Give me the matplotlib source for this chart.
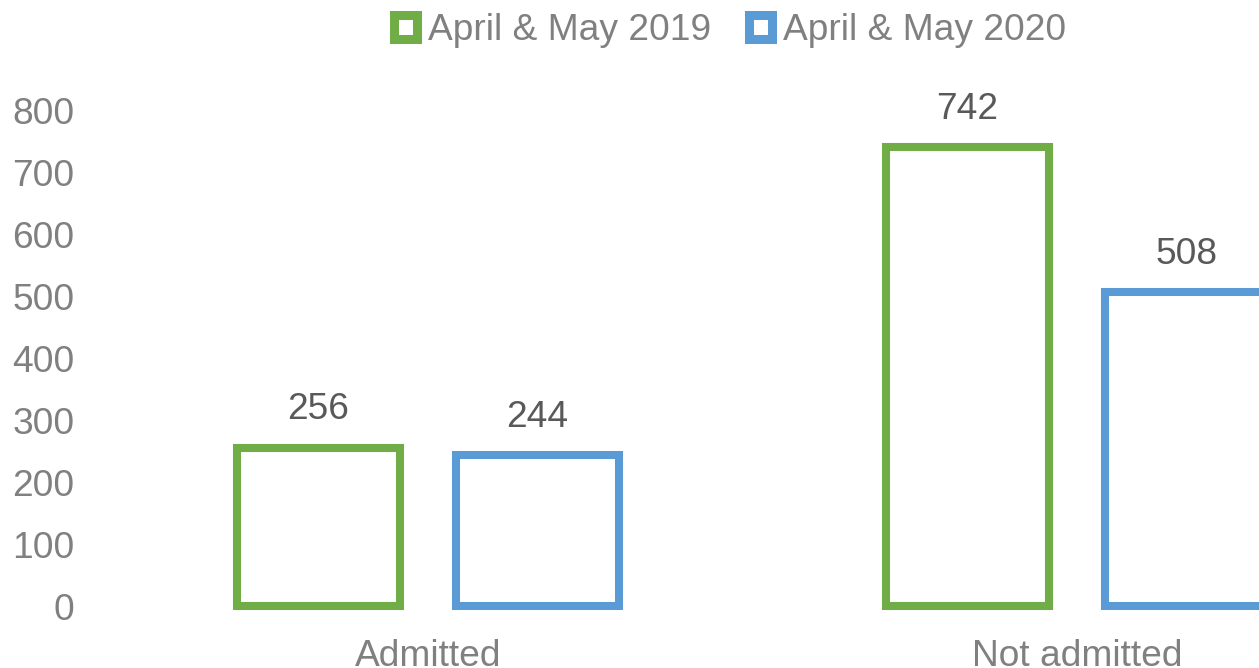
import matplotlib
matplotlib.use('Agg')
import matplotlib.pyplot as plt
from matplotlib.patches import Patch
import numpy as np

# Data
categories = ['Admitted', 'Not admitted']
series_names = ['April & May 2019', 'April & May 2020']
values_2019 = [256, 742]
values_2020 = [244, 508]
y_ticks = [0, 100, 200, 300, 400, 500, 600, 700, 800]

GREEN = '#70AD47'
BLUE = '#5B9BD5'
AXIS_GREY = '#808080'
LABEL_GREY = '#595959'
FS = 26.7

plt.rcParams['font.family'] = ['Liberation Sans', 'DejaVu Sans']

fig = plt.figure(figsize=(12.59, 6.68), dpi=100)
# plot area is wider than the picture: right side gets cut off like the original
ax = fig.add_axes([103.5 / 1259, 62 / 668, 1298 / 1259, 495 / 668])

x = np.arange(len(categories))
width = 0.251
offset = 0.169

bars1 = ax.bar(x - offset, values_2019, width, facecolor='white', edgecolor=GREEN,
               linewidth=5.8, clip_on=False, label=series_names[0])
bars2 = ax.bar(x + offset, values_2020, width, facecolor='white', edgecolor=BLUE,
               linewidth=5.8, clip_on=False, label=series_names[1])

for bars in (bars1, bars2):
    ax.bar_label(bars, padding=14.5, fontsize=FS, color=LABEL_GREY)

ax.set_xlim(-0.5, 1.5)
ax.set_ylim(0, 800)
ax.set_yticks(y_ticks)
ax.set_xticks(x)
ax.set_xticklabels(categories)
ax.tick_params(axis='y', length=0, pad=21, labelsize=FS, labelcolor=AXIS_GREY)
ax.tick_params(axis='x', length=0, pad=24, labelsize=FS, labelcolor=AXIS_GREY)
for s in ax.spines.values():
    s.set_visible(False)

handles = [Patch(facecolor='white', edgecolor=GREEN, linewidth=6.5),
           Patch(facecolor='white', edgecolor=BLUE, linewidth=6.5)]
fig.legend(handles, series_names, loc='center', bbox_to_anchor=(730 / 1259, 1 - 31 / 668),
           ncol=2, frameon=False, fontsize=FS, labelcolor=AXIS_GREY,
           handlelength=0.62, handleheight=0.62, handletextpad=0.3, columnspacing=1.0,
           borderaxespad=0, borderpad=0)

fig.savefig('out.png', dpi=100)
